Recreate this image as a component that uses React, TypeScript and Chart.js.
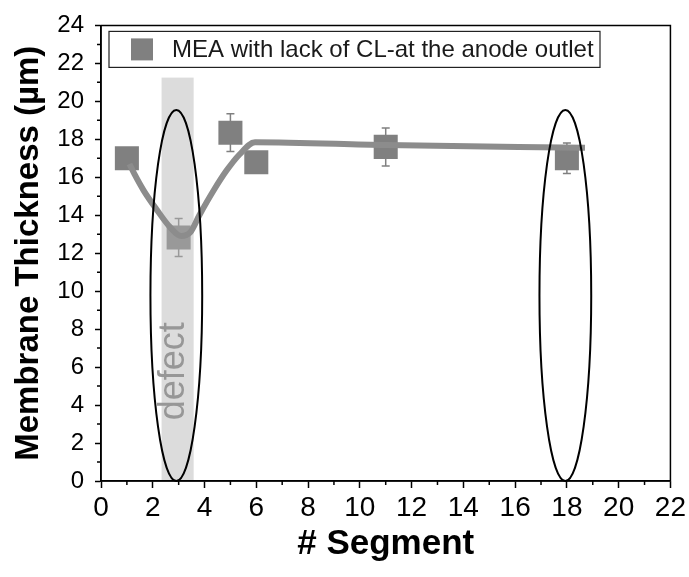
import React, { useEffect, useRef } from "react";
import { Chart, registerables } from "chart.js";

Chart.register(...registerables);

// ---- data ----
const segments = [1, 3, 5, 6, 11, 18];
const thickness = [17.0, 12.83, 18.35, 16.79, 17.6, 17.0];
const thicknessErr = [0.3, 1.0, 0.99, 0.3, 1.0, 0.8];
const fitX = [1.1, 1.3, 1.65, 2.15, 2.65, 3.1, 3.45, 3.8, 4.35, 4.85, 5.35, 5.95, 11, 18.7];
const fitY = [16.7, 16.15, 15.3, 14.3, 13.4, 12.9, 13.1, 14.0, 15.3, 16.35, 17.2, 17.85, 17.7, 17.55];
const seriesLabel = "MEA with lack of CL-at the anode outlet";
const xTitle = "# Segment";
const yTitle = "Membrane Thickness (µm)";
const defectLabel = "defect";
const defectRange = [2.34, 3.58];
const defectTop = 21.25;
const ellipseCenters = [2.91, 17.94];
const ellipseTop = 19.55;
const ellipseHalfWidth = 1.0;

const FONT = "'Liberation Sans', Arial, Helvetica, sans-serif";
const MARKER = "#808080";

const decorPlugin = {
  id: "decor",
  beforeDatasetDraw(chart: any, args: any) {
    if (args.index !== 0) return;
    const { ctx } = chart;
    const xs = chart.scales.x;
    const ys = chart.scales.y;
    ctx.save();
    ctx.strokeStyle = MARKER;
    ctx.lineWidth = 1.5;
    segments.forEach((s, i) => {
      const e = thicknessErr[i];
      if (!e) return;
      const px = xs.getPixelForValue(s);
      const yTop = ys.getPixelForValue(thickness[i] + e);
      const yBot = ys.getPixelForValue(thickness[i] - e);
      ctx.beginPath();
      ctx.moveTo(px, yTop);
      ctx.lineTo(px, yBot);
      ctx.moveTo(px - 4, yTop);
      ctx.lineTo(px + 4, yTop);
      ctx.moveTo(px - 4, yBot);
      ctx.lineTo(px + 4, yBot);
      ctx.stroke();
    });
    ctx.restore();
  },
  afterDatasetDraw(chart: any, args: any) {
    if (args.index !== 0) return;
    const { ctx, chartArea } = chart;
    const xs = chart.scales.x;
    const ys = chart.scales.y;
    const x0 = xs.getPixelForValue(defectRange[0]);
    const x1 = xs.getPixelForValue(defectRange[1]);
    const yT = ys.getPixelForValue(defectTop);
    ctx.save();
    ctx.fillStyle = "rgba(181,181,181,0.47)";
    ctx.fillRect(x0, yT, x1 - x0, chartArea.bottom - 1 - yT);
    ctx.restore();
  },
  afterDatasetsDraw(chart: any) {
    const { ctx, chartArea } = chart;
    const xs = chart.scales.x;
    const ys = chart.scales.y;
    ctx.save();
    // defect label
    const tx = xs.getPixelForValue(3.22);
    const ty = ys.getPixelForValue(5.78);
    ctx.translate(tx, ty);
    ctx.rotate(-Math.PI / 2);
    ctx.font = `36px ${FONT}`;
    ctx.fillStyle = "#979797";
    ctx.textAlign = "center";
    ctx.textBaseline = "alphabetic";
    ctx.fillText(defectLabel, 0, 0);
    ctx.restore();

    // ellipses
    ctx.save();
    ctx.strokeStyle = "#000";
    ctx.lineWidth = 2;
    ellipseCenters.forEach((c) => {
      const cx = xs.getPixelForValue(c);
      const rx = xs.getPixelForValue(c + ellipseHalfWidth) - cx;
      const yTop = ys.getPixelForValue(ellipseTop);
      const yBot = ys.getPixelForValue(0);
      const cy = (yTop + yBot) / 2;
      const ry = (yBot - yTop) / 2;
      ctx.beginPath();
      ctx.ellipse(cx, cy, rx, ry, 0, 0, Math.PI * 2);
      ctx.stroke();
    });
    ctx.restore();

    // legend box
    ctx.save();
    const lx = chartArea.left + 8;
    const ly = chartArea.top + 6;
    const lw = 491;
    const lh = 36;
    ctx.fillStyle = "#fff";
    ctx.fillRect(lx, ly, lw, lh);
    ctx.strokeStyle = "#222";
    ctx.lineWidth = 1.2;
    ctx.strokeRect(lx, ly, lw, lh);
    ctx.fillStyle = MARKER;
    ctx.fillRect(lx + 22, ly + 7, 22, 22);
    ctx.fillStyle = "#1a1a1a";
    ctx.font = `24px ${FONT}`;
    ctx.textBaseline = "middle";
    ctx.textAlign = "left";
    ctx.fillText(seriesLabel, lx + 63, ly + lh / 2 + 1);
    ctx.restore();
  },
  afterDraw(chart: any) {
    const { ctx, chartArea } = chart;
    const xs = chart.scales.x;
    const ys = chart.scales.y;
    ctx.save();
    ctx.strokeStyle = "#000";
    ctx.lineWidth = 1.5;
    // minor ticks
    ctx.beginPath();
    for (let v = 1; v < 22; v += 2) {
      const px = xs.getPixelForValue(v);
      ctx.moveTo(px, chartArea.bottom);
      ctx.lineTo(px, chartArea.bottom + 4);
    }
    for (let v = 1; v < 24; v += 2) {
      const py = ys.getPixelForValue(v);
      ctx.moveTo(chartArea.left - 4, py);
      ctx.lineTo(chartArea.left, py);
    }
    ctx.stroke();
    // frame
    ctx.beginPath();
    ctx.moveTo(chartArea.left, chartArea.top);
    ctx.lineTo(chartArea.right, chartArea.top);
    ctx.lineTo(chartArea.right, chartArea.bottom);
    ctx.lineTo(chartArea.left, chartArea.bottom);
    ctx.closePath();
    ctx.stroke();
    ctx.restore();
  },
};

export default function App() {
  const ref = useRef<HTMLCanvasElement | null>(null);
  useEffect(() => {
    if (!ref.current) return;
    const chart = new Chart(ref.current, {
      type: "scatter",
      data: {
        datasets: [
          {
            type: "scatter",
            label: seriesLabel,
            data: segments.map((s, i) => ({ x: s, y: thickness[i] })),
            pointStyle: "rect",
            pointRadius: 17,
            pointHoverRadius: 17,
            backgroundColor: MARKER,
            borderWidth: 0,
            order: 2,
          } as any,
          {
            type: "line",
            label: "fit",
            data: fitX.map((x, i) => ({ x, y: fitY[i] })),
            borderColor: "#8c8c8c",
            borderWidth: 6,
            pointRadius: 0,
            cubicInterpolationMode: "monotone",
            fill: false,
            order: 1,
          } as any,
        ],
      },
      options: {
        responsive: false,
        animation: false,
        devicePixelRatio: 1,
        layout: { padding: { top: 20, right: 17, left: 0, bottom: 0 } },
        plugins: {
          legend: { display: false },
          tooltip: { enabled: false },
        },
        scales: {
          x: {
            type: "linear",
            min: 0,
            max: 22,
            afterFit: (s: any) => {
              s.height = 96;
            },
            ticks: {
              stepSize: 2,
              color: "#000",
              padding: 3,
              font: { family: FONT, size: 28 },
              maxRotation: 0,
            },
            grid: {
              drawOnChartArea: false,
              drawTicks: true,
              tickLength: 7,
              tickColor: "#000",
              tickWidth: 1.5,
            },
            border: { color: "#000", width: 1.5 },
            title: {
              display: true,
              text: xTitle,
              color: "#000",
              font: { family: FONT, size: 35, weight: "bold" },
              padding: { top: 0, bottom: 12 },
            },
          },
          y: {
            type: "linear",
            min: 0,
            max: 24,
            afterFit: (s: any) => {
              s.width = 101;
            },
            ticks: {
              stepSize: 2,
              color: "#000",
              padding: 11,
              font: { family: FONT, size: 24 },
            },
            grid: {
              drawOnChartArea: false,
              drawTicks: true,
              tickLength: 6,
              tickColor: "#000",
              tickWidth: 1.5,
            },
            border: { color: "#000", width: 1.5 },
            title: {
              display: true,
              text: yTitle,
              color: "#000",
              font: { family: FONT, size: 33, weight: "bold" },
              padding: { top: 9, bottom: 0 },
            },
          },
        },
      } as any,
      plugins: [decorPlugin],
    });
    return () => chart.destroy();
  }, []);
  return (
    <div style={{ position: "fixed", left: 0, top: 0, width: 689, height: 577, background: "#fff" }}>
      <canvas ref={ref} width={689} height={577} style={{ width: 689, height: 577 }} />
    </div>
  );
}
